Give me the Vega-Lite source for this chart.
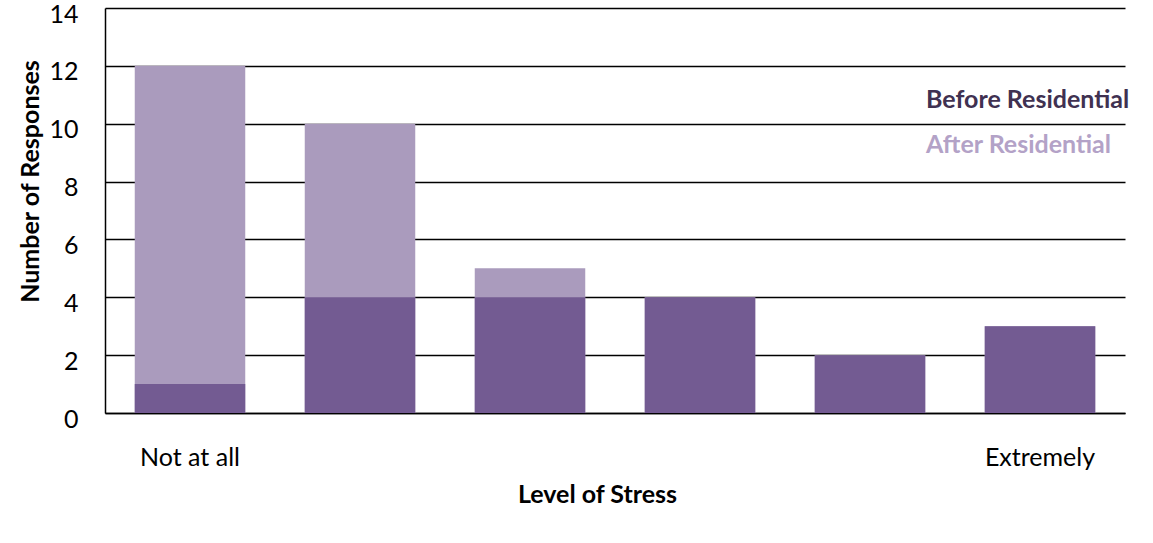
{
  "$schema": "https://vega.github.io/schema/vega-lite/v6.json",
  "width": 1020,
  "height": 405,
  "autosize": {"type": "none"},
  "padding": {"left": 105, "top": 8, "right": 28, "bottom": 130},
  "background": "white",
  "config": {
    "view": {"stroke": null},
    "font": "Lato",
    "axis": {"labelFont": "Lato", "titleFont": "Lato", "labelColor": "black", "titleColor": "black"}
  },
  "data": {
    "values": [
      {"level": 1, "series": "After Residential", "count": 12},
      {"level": 2, "series": "After Residential", "count": 10},
      {"level": 3, "series": "After Residential", "count": 5},
      {"level": 4, "series": "After Residential", "count": 4},
      {"level": 5, "series": "After Residential", "count": 2},
      {"level": 6, "series": "After Residential", "count": 3},
      {"level": 1, "series": "Before Residential", "count": 1},
      {"level": 2, "series": "Before Residential", "count": 4},
      {"level": 3, "series": "Before Residential", "count": 4},
      {"level": 4, "series": "Before Residential", "count": 4},
      {"level": 5, "series": "Before Residential", "count": 2},
      {"level": 6, "series": "Before Residential", "count": 3}
    ]
  },
  "mark": {"type": "bar"},
  "encoding": {
    "x": {
      "field": "level",
      "type": "ordinal",
      "scale": {"paddingInner": 0.35, "paddingOuter": 0.175},
      "axis": {
        "title": "Level of Stress",
        "labelAngle": 0,
        "labelExpr": "datum.value == 1 ? 'Not at all' : (datum.value == 6 ? 'Extremely' : '')",
        "labelFontSize": 25,
        "labelPadding": 32,
        "ticks": false,
        "domainColor": "black",
        "domainWidth": 1.5,
        "titleFontSize": 25,
        "titleFontWeight": "bold",
        "titlePadding": 12,
        "titleX": 492
      }
    },
    "y": {
      "field": "count",
      "type": "quantitative",
      "stack": null,
      "scale": {"domain": [0, 14]},
      "axis": {
        "title": "Number of Responses",
        "values": [0, 2, 4, 6, 8, 10, 12, 14],
        "labelFontSize": 25,
        "labelPadding": 27,
        "labelOffset": 6,
        "ticks": false,
        "grid": true,
        "gridColor": "black",
        "gridWidth": 1.5,
        "gridOpacity": 1,
        "domainColor": "black",
        "domainWidth": 1.5,
        "titleFontSize": 25,
        "titleFontWeight": "bold",
        "titlePadding": 5,
        "titleY": 173
      }
    },
    "color": {
      "field": "series",
      "type": "nominal",
      "scale": {
        "domain": ["Before Residential", "After Residential"],
        "range": ["#735B92", "#AA9BBD"]
      },
      "legend": {
        "title": null,
        "orient": "none",
        "legendX": 796,
        "legendY": 79,
        "symbolSize": 0,
        "symbolOpacity": 0,
        "symbolStrokeWidth": 0,
        "labelOffset": 0,
        "padding": 0,
        "rowPadding": 19,
        "labelFontSize": 25,
        "labelFontWeight": "bold",
        "labelLimit": 400,
        "labelBaseline": "middle",
        "encode": {
          "labels": {
            "update": {
              "fill": {"signal": "datum.value === 'Before Residential' ? '#403151' : '#B3A2C7'"}
            }
          }
        }
      }
    },
    "order": {"field": "series", "type": "nominal"}
  }
}
